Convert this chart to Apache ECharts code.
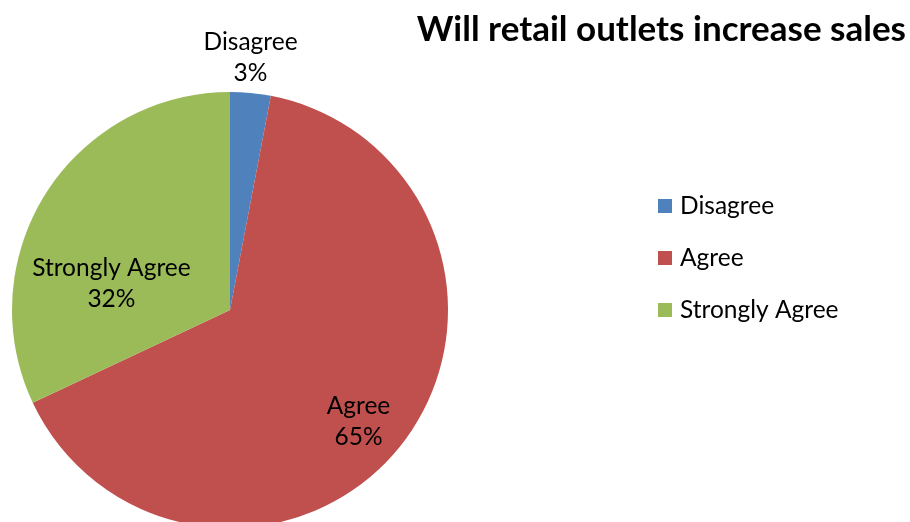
<!DOCTYPE html>
<html>
<head>
<meta charset="utf-8">
<script src="https://cdn.jsdelivr.net/npm/echarts@6/dist/echarts.min.js"></script>
<style>
  html, body { margin: 0; padding: 0; background: #ffffff; }
  #chart { width: 910px; height: 522px; }
</style>
</head>
<body>
<div id="chart"></div>
<script>
// Survey answers and their shares (percent)
const categories = ['Disagree', 'Agree', 'Strongly Agree'];
const shares = [3, 65, 32];
const sliceColors = ['#4F81BD', '#C0504D', '#9BBB59'];

// Label nudges from the default inside position, per slice
const labelShift = [
  { dx: 10, dy: -141 },
  { dx: 40, dy: 43 },
  { dx: -24, dy: 34 }
];

const FONT = 'Lato, "Open Sans", sans-serif';

const chart = echarts.init(document.getElementById('chart'), null, { renderer: 'canvas' });

chart.setOption({
  animation: false,
  backgroundColor: '#ffffff',
  title: {
    text: 'Will retail outlets increase sales',
    right: 4,
    top: 12,
    padding: 0,
    textStyle: { fontFamily: FONT, fontWeight: 'bold', fontSize: 35, color: '#000000' }
  },
  legend: {
    orient: 'vertical',
    left: 658,
    top: 193,
    padding: 0,
    itemWidth: 14,
    itemHeight: 14,
    itemGap: 26,
    icon: 'rect',
    textStyle: { fontFamily: FONT, fontSize: 24.5, lineHeight: 26, color: '#000000', padding: [0, 0, 0, 3] },
    data: categories
  },
  series: [{
    type: 'pie',
    center: [230, 310],
    radius: 218,
    startAngle: 90,
    clockwise: true,
    avoidLabelOverlap: false,
    itemStyle: { borderWidth: 0 },
    label: {
      show: true,
      position: 'inside',
      formatter: p => p.name + '\n' + p.value + '%',
      fontFamily: FONT,
      fontSize: 24.5,
      lineHeight: 31,
      color: '#000000',
      align: 'center'
    },
    labelLine: { show: false },
    emphasis: { disabled: true },
    data: categories.map((name, i) => ({
      name,
      value: shares[i],
      itemStyle: { color: sliceColors[i] }
    }))
  }],
  color: sliceColors
});

chart.setOption({
  series: [{
    labelLayout: params => labelShift[params.dataIndex]
  }]
});
</script>
</body>
</html>
